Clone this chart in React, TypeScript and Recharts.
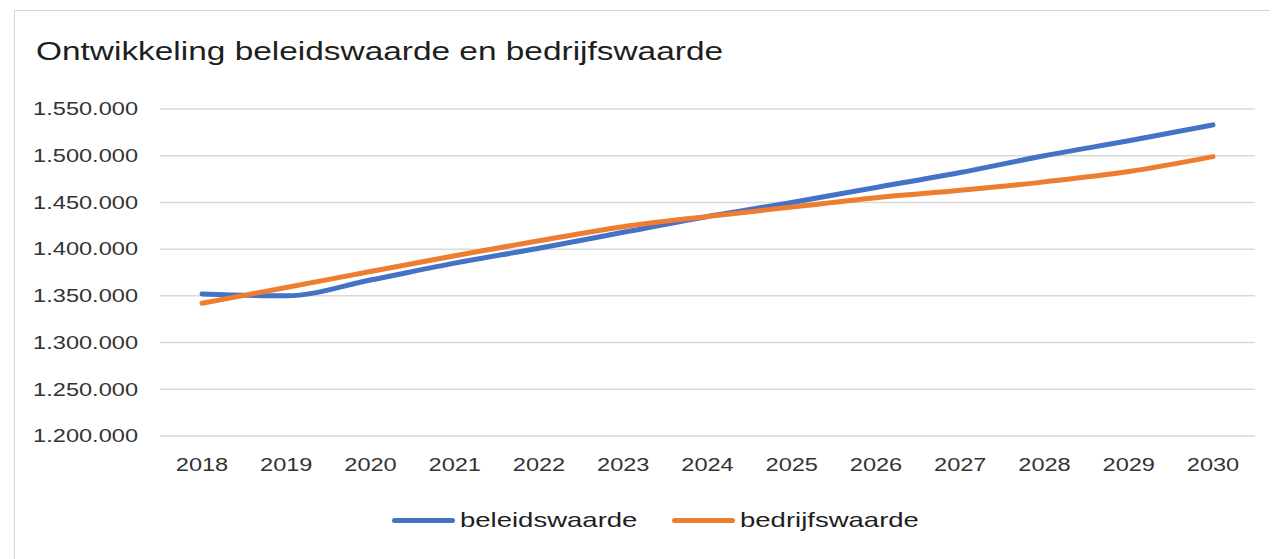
import { LineChart, Line, XAxis, YAxis, CartesianGrid } from 'recharts';

const years = ['2018', '2019', '2020', '2021', '2022', '2023', '2024', '2025', '2026', '2027', '2028', '2029', '2030'];
const beleidswaarde = [1352000, 1350000, 1367000, 1385000, 1401000, 1418000, 1435000, 1450000, 1466000, 1482000, 1500000, 1516000, 1533000];
const bedrijfswaarde = [1342000, 1359000, 1376000, 1393000, 1409000, 1424000, 1435000, 1445000, 1455000, 1463000, 1472000, 1483000, 1499000];
const yTicks = [1200000, 1250000, 1300000, 1350000, 1400000, 1450000, 1500000, 1550000];

const series = [
  { key: 'beleidswaarde', color: '#4472c4' },
  { key: 'bedrijfswaarde', color: '#ed7d31' },
];

const data = years.map((y, i) => ({
  year: y,
  beleidswaarde: beleidswaarde[i],
  bedrijfswaarde: bedrijfswaarde[i],
}));

// the original picture is stretched sideways, so text gets squeezed the same way
const SX = 1.31;
const FONT = '"Liberation Sans", Arial, sans-serif';

const fmt = (v: number) => v.toLocaleString('de-DE');

const YTick = ({ x, y, payload }: any) => (
  <g transform={`translate(${x},${y}) scale(${SX},1)`}>
    <text x={0} y={0} dy="0.35em" textAnchor="end" fill="#333" fontSize={18} fontFamily={FONT}>
      {fmt(payload.value)}
    </text>
  </g>
);

const XTick = ({ x, y, payload }: any) => (
  <g transform={`translate(${x},${y}) scale(${SX},1)`}>
    <text x={0} y={0} dy="0.71em" textAnchor="middle" fill="#333" fontSize={18} fontFamily={FONT}>
      {payload.value}
    </text>
  </g>
);

export default function App() {
  return (
    <div style={{ position: 'relative', width: 1270, height: 551, fontFamily: FONT }}>
      <div
        style={{
          position: 'absolute', left: 6, top: 2, width: 1300, height: 560,
          border: '1px solid #d6d6d6', boxSizing: 'border-box',
        }}
      />
      <div
        style={{
          position: 'absolute', left: 28, top: 28, fontSize: 25.5, color: '#1e1e1e',
          transform: `scaleX(${SX})`, transformOrigin: 'left top', whiteSpace: 'nowrap', lineHeight: '30px',
        }}
      >
        Ontwikkeling beleidswaarde en bedrijfswaarde
      </div>
      <div style={{ position: 'absolute', left: 0, top: 0 }}>
        <LineChart width={1270} height={551} data={data} margin={{ top: 101, right: 23, bottom: 93, left: 0 }}>
          <CartesianGrid vertical={false} stroke="#d9d9d9" strokeWidth={1.5} />
          <XAxis
            dataKey="year"
            axisLine={false}
            tickLine={false}
            padding={{ left: 42, right: 42 }}
            height={30}
            tickMargin={16}
            tick={<XTick />}
            interval={0}
          />
          <YAxis
            domain={[1200000, 1550000]}
            ticks={yTicks}
            axisLine={false}
            tickLine={false}
            width={152}
            tickMargin={16}
            tick={<YTick />}
            interval={0}
          />
          {series.map((s) => (
            <Line
              key={s.key}
              dataKey={s.key}
              type="monotone"
              stroke={s.color}
              strokeWidth={5}
              strokeLinecap="round"
              dot={false}
              isAnimationActive={false}
            />
          ))}
        </LineChart>
      </div>
      {series.map((s, i) => (
        <div
          key={s.key}
          style={{ position: 'absolute', left: 384 + i * 280, top: 498, display: 'flex', alignItems: 'center', height: 28 }}
        >
          <div style={{ width: 63, height: 5, borderRadius: 3, background: s.color }} />
          <div
            style={{
              marginLeft: 5, fontSize: 21, color: '#1e1e1e', transform: `scaleX(${SX})`,
              transformOrigin: 'left center', whiteSpace: 'nowrap',
            }}
          >
            {s.key}
          </div>
        </div>
      ))}
    </div>
  );
}
